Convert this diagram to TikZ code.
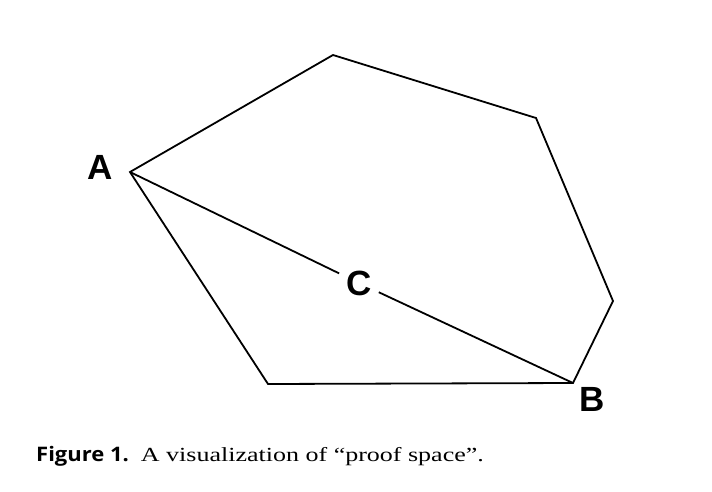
\documentclass[tikz,border=0pt]{standalone}
\usepackage{fontspec}
\setmainfont{Liberation Serif}[FakeStretch=1.3]
\newfontfamily\lblfont{Liberation Sans}
\newfontfamily\capsans{Open Sans}[FakeStretch=1.1]
\begin{document}
\begin{tikzpicture}[x=1pt,y=-1pt,
  edge/.style={draw=black,line width=1.8pt,line join=miter},
  vlabel/.style={font=\lblfont\bfseries\fontsize{35}{35}\selectfont,inner sep=0pt},
  caption/.style={anchor=base west,inner sep=0pt,font=\fontsize{20}{24}\selectfont}]
\useasboundingbox (0,0) rectangle (712,492);
% polygon vertices
\coordinate (vA) at (130,172);
\coordinate (vTop) at (333,55);
\coordinate (vUR) at (536,118);
\coordinate (vR) at (613,301);
\coordinate (vB) at (573,383);
\coordinate (vBL) at (268,384);
% labels
\node[vlabel] (A) at (100,167) {A};
\node[vlabel] (B) at (592,399) {B};
\node[vlabel,inner xsep=7pt,inner ysep=3pt] (C) at (359,283) {C};
% outline
\draw[edge] (vA) -- (vTop) -- (vUR) -- (vR) -- (vB) -- (vBL) -- cycle;
% diagonal through C
\draw[edge] (vA) -- (C);
\draw[edge] (C) -- (vB);
% caption
\node[caption] (cap) at (36,461) {{\capsans\bfseries Figure 1.}\hspace{12pt}A visualization of “proof space”.};
\end{tikzpicture}
\end{document}
